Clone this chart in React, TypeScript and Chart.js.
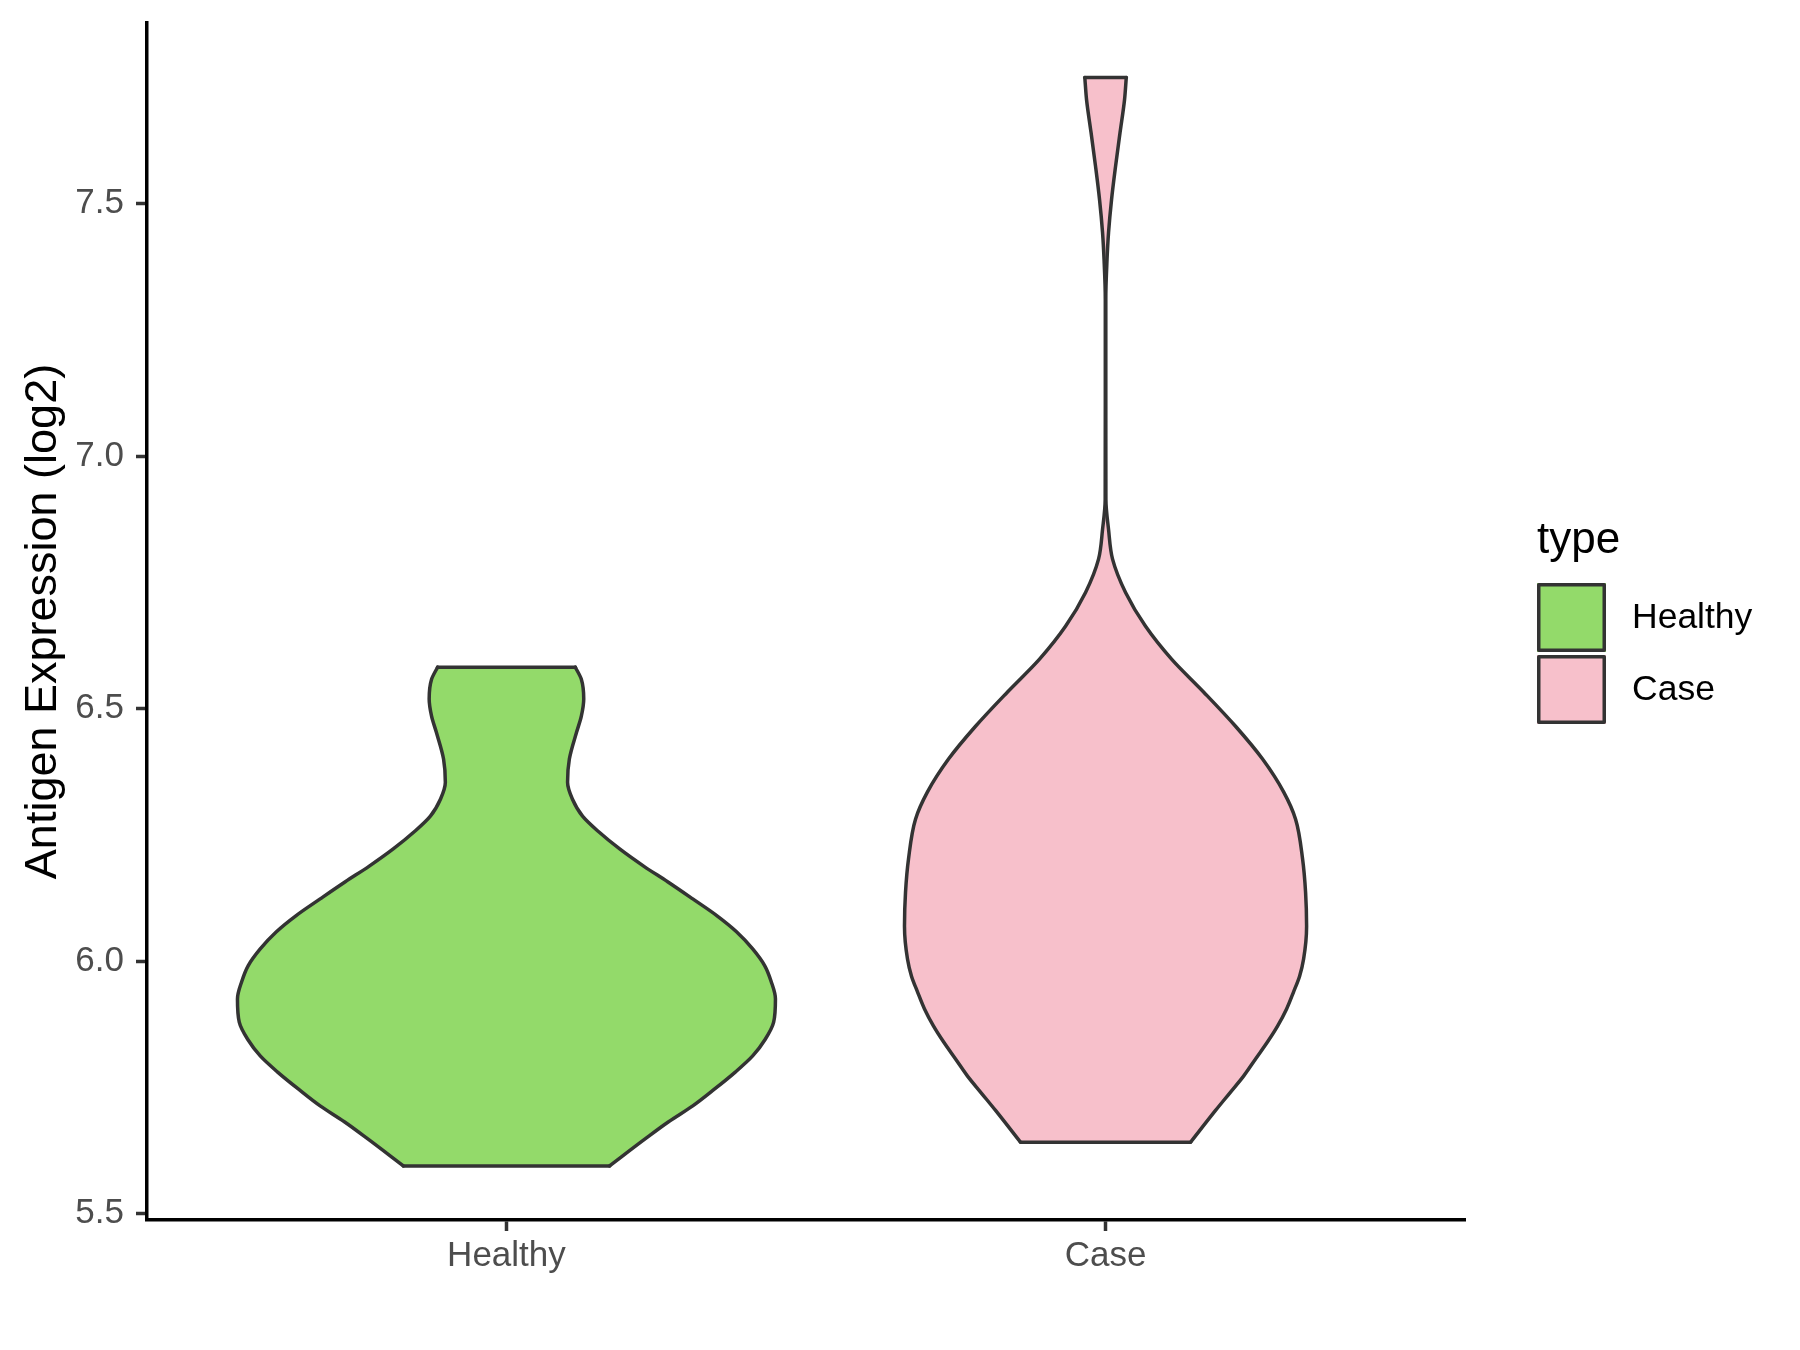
import React, { useEffect, useRef } from 'react';
import { Chart, registerables } from 'chart.js';

Chart.register(...registerables);

const CATEGORIES = ['Healthy', 'Case'];
const FILL_COLORS = ['#93DA6A', '#F7C0CB'];
const OUTLINE_COLOR = '#333333';
const LEGEND_TITLE = 'type';
const Y_TITLE = 'Antigen Expression (log2)';
const Y_TICKS = [5.5, 6.0, 6.5, 7.0, 7.5];
const Y_MIN = 5.487;
const Y_MAX = 7.858;

// Violin outlines: y levels (bottom -> top) and half-widths in category units
const HEALTHY_Y = [5.594, 5.648, 5.681, 5.713, 5.746, 5.780, 5.812, 5.845, 5.879, 5.925, 5.959, 5.991, 6.024, 6.058, 6.090, 6.123, 6.157, 6.188, 6.222, 6.256, 6.287, 6.321, 6.354, 6.400, 6.453, 6.485, 6.519, 6.558, 6.582];
const HEALTHY_W = [0.172, 0.232, 0.270, 0.311, 0.347, 0.382, 0.411, 0.432, 0.446, 0.449, 0.442, 0.431, 0.411, 0.384, 0.351, 0.311, 0.269, 0.229, 0.189, 0.154, 0.127, 0.110, 0.102, 0.105, 0.117, 0.125, 0.129, 0.125, 0.115];

const CASE_Y = [5.641, 5.704, 5.738, 5.772, 5.806, 5.840, 5.871, 5.905, 5.939, 5.970, 6.004, 6.069, 6.136, 6.202, 6.281, 6.335, 6.400, 6.465, 6.533, 6.598, 6.663, 6.730, 6.796, 6.855, 6.914, 7.112, 7.310, 7.390, 7.443, 7.508, 7.574, 7.641, 7.706, 7.750];
const CASE_W = [0.1419, 0.1836, 0.2070, 0.2304, 0.2504, 0.2705, 0.2871, 0.3022, 0.3139, 0.3239, 0.3306, 0.3356, 0.3339, 0.3289, 0.3172, 0.2972, 0.2621, 0.2170, 0.1636, 0.1102, 0.0668, 0.0334, 0.0117, 0.0050, 0.0006, 0.0004, 0.0004, 0.0025, 0.0050, 0.0100, 0.0167, 0.0242, 0.0317, 0.0346];

const VIOLINS = [
  { ys: HEALTHY_Y, ws: HEALTHY_W },
  { ys: CASE_Y, ws: CASE_W },
];

const FONT = '"Liberation Sans", Arial, sans-serif';
const LINE_W = 3.5;

function outline(center: number, ys: number[], ws: number[]) {
  const pts: { x: number; y: number }[] = [];
  for (let i = 0; i < ys.length; i++) pts.push({ x: center - ws[i], y: ys[i] });
  for (let i = ys.length - 1; i >= 0; i--) pts.push({ x: center + ws[i], y: ys[i] });
  pts.push({ x: center - ws[0], y: ys[0] });
  return pts;
}

const legendPlugin = {
  id: 'ggLegend',
  afterDraw(chart: any) {
    const ctx = chart.ctx as CanvasRenderingContext2D;
    ctx.save();
    ctx.fillStyle = '#000000';
    ctx.textAlign = 'left';
    ctx.textBaseline = 'alphabetic';
    ctx.font = `44px ${FONT}`;
    ctx.fillText(LEGEND_TITLE, 1537, 553);
    const boxX = 1537;
    const boxSize = 69;
    const starts = [583, 655];
    CATEGORIES.forEach((cat, i) => {
      const y0 = starts[i];
      ctx.fillStyle = FILL_COLORS[i];
      ctx.fillRect(boxX, y0, boxSize, boxSize);
      ctx.lineWidth = LINE_W;
      ctx.strokeStyle = OUTLINE_COLOR;
      ctx.lineJoin = 'round';
      ctx.strokeRect(boxX + LINE_W / 2, y0 + LINE_W / 2, boxSize - LINE_W, boxSize - LINE_W);
      ctx.fillStyle = '#000000';
      ctx.font = `35.5px ${FONT}`;
      ctx.textBaseline = 'middle';
      ctx.fillText(cat, 1632, y0 + boxSize / 2 + 1);
      ctx.textBaseline = 'alphabetic';
    });
    ctx.restore();
  },
};

export default function App() {
  const ref = useRef<HTMLCanvasElement | null>(null);

  useEffect(() => {
    if (!ref.current) return;
    Chart.defaults.font.family = FONT;
    const datasets: any[] = [];
    VIOLINS.forEach((v, i) => {
      const c = i + 1;
      const n = v.ys.length - 1;
      // filled body
      datasets.push({
        label: CATEGORIES[i],
        data: outline(c, v.ys, v.ws),
        backgroundColor: FILL_COLORS[i],
        borderColor: FILL_COLORS[i],
        borderWidth: 0,
        pointRadius: 0,
        pointHoverRadius: 0,
        tension: 0,
        fill: 'shape',
        order: 2,
      });
      const common = {
        borderColor: OUTLINE_COLOR,
        borderWidth: LINE_W,
        borderCapStyle: 'round',
        borderJoinStyle: 'round',
        pointRadius: 0,
        pointHoverRadius: 0,
        fill: false,
        order: 1,
      };
      // smooth left and right outlines (monotone along y)
      datasets.push({
        ...common,
        label: CATEGORIES[i] + ' left',
        data: v.ys.map((y, k) => ({ x: c - v.ws[k], y })),
        indexAxis: 'y',
        cubicInterpolationMode: 'monotone',
      });
      datasets.push({
        ...common,
        label: CATEGORIES[i] + ' right',
        data: v.ys.map((y, k) => ({ x: c + v.ws[k], y })),
        indexAxis: 'y',
        cubicInterpolationMode: 'monotone',
      });
      // flat bottom and top edges
      datasets.push({
        ...common,
        label: CATEGORIES[i] + ' bottom',
        data: [{ x: c - v.ws[0], y: v.ys[0] }, { x: c + v.ws[0], y: v.ys[0] }],
        tension: 0,
      });
      datasets.push({
        ...common,
        label: CATEGORIES[i] + ' top',
        data: [{ x: c - v.ws[n], y: v.ys[n] }, { x: c + v.ws[n], y: v.ys[n] }],
        tension: 0,
      });
    });

    const chart = new Chart(ref.current, {
      type: 'line',
      data: { datasets },
      options: {
        animation: false,
        responsive: false,
        devicePixelRatio: 1,
        layout: { padding: { left: 0, right: 335, top: 23, bottom: 0 } },
        plugins: {
          legend: { display: false },
          tooltip: { enabled: false },
        },
        scales: {
          x: {
            type: 'linear',
            min: 0.4,
            max: 2.6,
            afterBuildTicks: (scale: any) => {
              scale.ticks = CATEGORIES.map((_, i) => ({ value: i + 1 }));
            },
            afterFit: (scale: any) => {
              scale.height = 130;
              scale.paddingLeft = 0;
              scale.paddingRight = 0;
            },
            ticks: {
              autoSkip: false,
              maxRotation: 0,
              minRotation: 0,
              padding: 4,
              color: '#4D4D4D',
              font: { size: 35 },
              callback: (v: any) => CATEGORIES[Math.round(Number(v)) - 1] ?? '',
            },
            grid: {
              display: true,
              drawOnChartArea: false,
              drawTicks: true,
              tickLength: 11,
              tickColor: OUTLINE_COLOR,
              tickWidth: LINE_W,
            },
            border: { display: true, color: '#000000', width: LINE_W },
          },
          y: {
            type: 'linear',
            min: Y_MIN,
            max: Y_MAX,
            afterBuildTicks: (scale: any) => {
              scale.ticks = Y_TICKS.map((v) => ({ value: v }));
            },
            afterFit: (scale: any) => {
              scale.width = 147;
              scale.paddingTop = 0;
              scale.paddingBottom = 0;
            },
            ticks: {
              padding: 12,
              color: '#4D4D4D',
              font: { size: 35 },
              callback: (v: any) => Number(v).toFixed(1),
            },
            grid: {
              display: true,
              drawOnChartArea: false,
              drawTicks: true,
              tickLength: 11,
              tickColor: OUTLINE_COLOR,
              tickWidth: LINE_W,
            },
            border: { display: true, color: '#000000', width: LINE_W },
            title: {
              display: true,
              text: Y_TITLE,
              color: '#000000',
              font: { size: 45 },
              padding: { top: 17, bottom: 0 },
            },
          },
        },
      },
      plugins: [legendPlugin],
    });
    return () => chart.destroy();
  }, []);

  return (
    <div style={{ position: 'fixed', left: 0, top: 0, width: 1800, height: 1350, background: '#ffffff' }}>
      <canvas ref={ref} width={1800} height={1350} style={{ width: 1800, height: 1350, display: 'block' }} />
    </div>
  );
}
